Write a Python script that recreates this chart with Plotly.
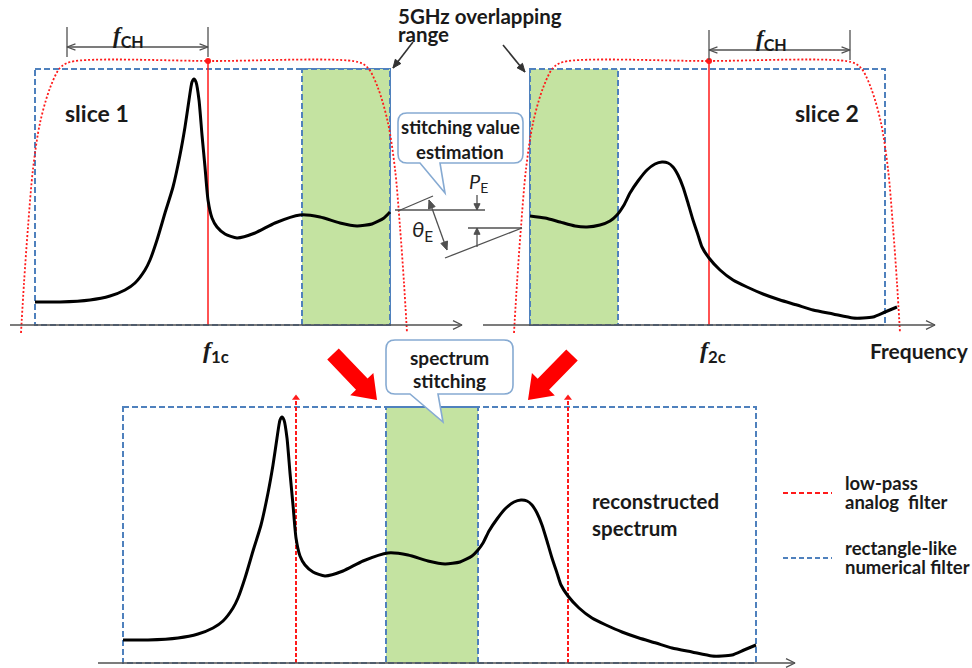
import math
import plotly.graph_objects as go

# ---------------------------------------------------------------- data
# Spectrum of each slice: frequency offset from the left edge of the slice's
# numerical filter, and level above the frequency axis.
slice1_freq = [0, 25, 55, 75, 90, 100, 110, 115, 122, 130, 138, 145, 150, 154, 157, 159, 161,
               164, 167, 170, 173, 177, 182, 190, 202, 220, 240, 265, 285, 305, 322, 337, 349, 355]
slice1_level = [23, 23, 25, 29, 35, 42, 55, 65, 85, 112, 138, 170, 198, 225, 243, 246, 243,
                225, 190, 158, 125, 107, 98, 91, 87, 92, 102, 110, 108, 102, 99, 101, 107, 113]

slice2_freq = [0, 15, 30, 45, 57, 70, 80, 87, 94, 100, 108, 117, 125, 132, 138, 143, 148, 153,
               158, 163, 168, 172, 179, 190, 203, 217, 233, 250, 267, 283, 303, 323, 333, 343, 355, 367]
slice2_level = [109, 107, 103, 99, 98, 100, 104, 110, 120, 132, 144, 155, 161, 163, 162, 158, 150, 138,
                122, 105, 90, 78, 67, 55, 45, 38, 31, 25, 20, 15, 11, 7, 7, 8, 13, 18]

# Low-pass analog filter response (one half, mirrored about the centre)
filter_offset = [0, 144, 154, 164, 174, 181, 186, 190, 193]
filter_level = [264, 263, 257, 237, 202, 156, 98, 42, -8]

# Rectangle-like numerical filter: passband width, height and stitching (overlap) band
numerical_width = 355
numerical_height = 256
overlap_width = 88

slice_names = ["slice 1", "slice 2"]
centre_subs = ["1c", "2c"]
legend_items = [("low-pass", "analog  filter"), ("rectangle-like", "numerical filter")]

# ---------------------------------------------------------------- layout constants
W, H = 972, 668
TOP_BASE, BOT_BASE = 325, 663
S1_LEFT, S2_LEFT = 35, 530
CH1_X, CH2_X = 208, 709            # channel centre frequencies (f1c, f2c)
AF1_C, AF2_C = 214, 707            # analog filter centres
REC_S1_LEFT, REC_S2_LEFT = 123, 389
REC_RIGHT = 756

RED = "#FF1A1A"
BLUE = "#4F81BD"
GREEN = "#C4E3A1"
GRAY = "#505050"
INK = "#1A1A1A"
CALLOUT = "#86AAD2"
FONT = "Lato"

fig = go.Figure()
shapes = []
annotations = []


def chevron(x0, y0, x1, y1, size=9, spread=0.45):
    a = math.atan2(y1 - y0, x1 - x0)
    xs = [x1 - size * math.cos(a + spread), x1, x1 - size * math.cos(a - spread)]
    ys = [y1 - size * math.sin(a + spread), y1, y1 - size * math.sin(a - spread)]
    return xs, ys


def head_tri(x0, y0, x1, y1, size=8, spread=0.4):
    a = math.atan2(y1 - y0, x1 - x0)
    xs = [x1, x1 - size * math.cos(a + spread), x1 - size * math.cos(a - spread), x1]
    ys = [y1, y1 - size * math.sin(a + spread), y1 - size * math.sin(a - spread), y1]
    return xs, ys


class Segs:
    def __init__(self):
        self.x, self.y = [], []

    def add(self, xs, ys):
        self.x += list(xs) + [None]
        self.y += list(ys) + [None]


# ---------------------------------------------------------------- filters / bands
for left, base in [(S1_LEFT, TOP_BASE), (S2_LEFT, TOP_BASE)]:
    shapes.append(dict(type="rect", x0=left, x1=left + numerical_width, y0=base - numerical_height, y1=base,
                       line=dict(color=BLUE, width=2, dash="6px,3px"), layer="below"))
# stitching bands
shapes.append(dict(type="rect", x0=S1_LEFT + numerical_width - overlap_width, x1=S1_LEFT + numerical_width,
                   y0=TOP_BASE - numerical_height, y1=TOP_BASE, fillcolor=GREEN,
                   line=dict(color=BLUE, width=2, dash="6px,3px"), layer="below"))
shapes.append(dict(type="rect", x0=S2_LEFT, x1=S2_LEFT + overlap_width,
                   y0=TOP_BASE - numerical_height, y1=TOP_BASE, fillcolor=GREEN,
                   line=dict(color=BLUE, width=2, dash="6px,3px"), layer="below"))
rec_g0 = REC_S1_LEFT + numerical_width - overlap_width - 4
rec_g1 = REC_S1_LEFT + numerical_width
shapes.append(dict(type="rect", x0=rec_g0, x1=rec_g1, y0=BOT_BASE - numerical_height, y1=BOT_BASE,
                   fillcolor=GREEN, line=dict(color=BLUE, width=2, dash="6px,3px"), layer="below"))
shapes.append(dict(type="rect", x0=REC_S1_LEFT, x1=REC_RIGHT, y0=BOT_BASE - numerical_height, y1=BOT_BASE,
                   line=dict(color=BLUE, width=2, dash="6px,3px"), layer="below"))
shapes.append(dict(type="line", x0=rec_g0, x1=rec_g1, y0=BOT_BASE - numerical_height,
                   y1=BOT_BASE - numerical_height, line=dict(color=BLUE, width=2), layer="below"))

# analog low-pass filters (dotted)
for c in (AF1_C, AF2_C):
    xs = [c - d for d in reversed(filter_offset)] + [c + d for d in filter_offset[1:]]
    ys = [TOP_BASE - v for v in reversed(filter_level)] + [TOP_BASE - v for v in filter_level[1:]]
    fig.add_trace(go.Scatter(x=xs, y=ys, mode="lines", line=dict(color=RED, width=1.8, dash="2px,2px",
                                                                 shape="spline", smoothing=0.9),
                             hoverinfo="skip"))

# channel centre lines
top_y = TOP_BASE - filter_level[0]
for cx in (CH1_X, CH2_X):
    fig.add_trace(go.Scatter(x=[cx, cx], y=[TOP_BASE, top_y], mode="lines",
                             line=dict(color=RED, width=1.5), hoverinfo="skip"))
fig.add_trace(go.Scatter(x=[CH1_X, CH2_X], y=[top_y, top_y], mode="markers",
                         marker=dict(color=RED, size=6), hoverinfo="skip"))

# channel centres in the reconstructed spectrum (dashed, arrow tip)
rec_centres = [REC_S1_LEFT + (CH1_X - S1_LEFT), REC_S2_LEFT + (CH2_X - S2_LEFT)]
for cx in rec_centres:
    fig.add_trace(go.Scatter(x=[cx, cx], y=[BOT_BASE, BOT_BASE - numerical_height - 8], mode="lines",
                             line=dict(color=RED, width=2, dash="4px,2px"), hoverinfo="skip"))
fig.add_trace(go.Scatter(x=rec_centres, y=[BOT_BASE - numerical_height - 9] * 2, mode="markers",
                         marker=dict(symbol="triangle-up", color=RED, size=7), hoverinfo="skip"))

# ---------------------------------------------------------------- spectra
s1x = [S1_LEFT + f for f in slice1_freq]
s1y = [TOP_BASE - v for v in slice1_level]
s2x = [S2_LEFT + f for f in slice2_freq]
s2y = [TOP_BASE - v for v in slice2_level]
rec_x = [REC_S1_LEFT + f for f in slice1_freq]
rec_y = [BOT_BASE - v for v in slice1_level]
stitch_edge = rec_x[-1]
for f, v in zip(slice2_freq, slice2_level):
    if REC_S2_LEFT + f > stitch_edge + 2:
        rec_x.append(REC_S2_LEFT + f)
        rec_y.append(BOT_BASE - v)
for xs, ys in [(s1x, s1y), (s2x, s2y), (rec_x, rec_y)]:
    fig.add_trace(go.Scatter(x=xs, y=ys, mode="lines",
                             line=dict(color="black", width=3, shape="spline", smoothing=0.6),
                             hoverinfo="skip"))

# ---------------------------------------------------------------- gray geometry
g = Segs()
# frequency axes
for x0, x1, yb in [(10, 462, TOP_BASE), (483, 935, TOP_BASE), (98, 795, BOT_BASE)]:
    g.add([x0, x1], [yb, yb])
    g.add(*chevron(x0, yb, x1, yb, size=10))
# channel width dimension marks
for xa, xb, yy in [(67, CH1_X, 47), (CH2_X, 850, 50)]:
    g.add([xa, xa], [yy - 20, yy + 10])
    g.add([xb, xb], [yy - 20, yy + 10])
    g.add([xa, xb], [yy, yy])
    g.add(*chevron(xb, yy, xa, yy, size=9, spread=0.35))
    g.add(*chevron(xa, yy, xb, yy, size=9, spread=0.35))
# stitching estimation geometry
g.add([395, 485], [210, 210])
g.add([398, 433], [211, 196])
g.add([468, 522], [228, 228])
g.add([445, 522], [258, 228])
g.add([429, 447], [200, 250])
g.add([477, 477], [195, 210])
g.add([477, 477], [247, 228])
fig.add_trace(go.Scatter(x=g.x, y=g.y, mode="lines", line=dict(color=GRAY, width=1.3), hoverinfo="skip"))

heads = Segs()
heads.add(*head_tri(447, 250, 429, 200, size=9))
heads.add(*head_tri(429, 200, 447, 250, size=9))
heads.add(*head_tri(477, 195, 477, 210, size=7, spread=0.45))
heads.add(*head_tri(477, 247, 477, 228, size=7, spread=0.45))
fig.add_trace(go.Scatter(x=heads.x, y=heads.y, mode="lines", fill="toself", fillcolor=GRAY,
                         line=dict(color=GRAY, width=1), hoverinfo="skip"))

# overlap pointers
p = Segs()
p.add([413, 393], [42, 68])
p.add([503, 525], [45, 72])
fig.add_trace(go.Scatter(x=p.x, y=p.y, mode="lines", line=dict(color="#333333", width=1.6), hoverinfo="skip"))
ph = Segs()
ph.add(*head_tri(413, 42, 393, 68, size=9, spread=0.4))
ph.add(*head_tri(503, 45, 525, 72, size=9, spread=0.4))
fig.add_trace(go.Scatter(x=ph.x, y=ph.y, mode="lines", fill="toself", fillcolor="#333333",
                         line=dict(color="#333333", width=1), hoverinfo="skip"))


# ---------------------------------------------------------------- red block arrows
def block_arrow(tx, ty, px, py, w=8, hw=16, hl=22):
    L = math.hypot(px - tx, py - ty)
    ux, uy = (px - tx) / L, (py - ty) / L
    nx, ny = -uy, ux
    bx, by = px - ux * hl, py - uy * hl
    pts = [(tx + nx * w, ty + ny * w), (bx + nx * w, by + ny * w), (bx + nx * hw, by + ny * hw), (px, py),
           (bx - nx * hw, by - ny * hw), (bx - nx * w, by - ny * w), (tx - nx * w, ty - ny * w), (tx + nx * w, ty + ny * w)]
    return [q[0] for q in pts], [q[1] for q in pts]


ra = Segs()
ra.add(*block_arrow(333, 354, 377, 400))
ra.add(*block_arrow(572, 355, 528, 400))
fig.add_trace(go.Scatter(x=ra.x, y=ra.y, mode="lines", fill="toself", fillcolor="#FF0000",
                         line=dict(color="#FF0000", width=0), hoverinfo="skip"))

# legend lines
for col, yy in zip([RED, BLUE], [493, 558]):
    fig.add_trace(go.Scatter(x=[783, 832], y=[yy, yy], mode="lines",
                             line=dict(color=col, width=2, dash="5px,3px"), hoverinfo="skip"))


# ---------------------------------------------------------------- callouts
def callout_path(x0, y0, x1, y1, r, tl, tr, tipx, tipy):
    return (f"M {x0 + r} {y0} L {x1 - r} {y0} Q {x1} {y0} {x1} {y0 + r} "
            f"L {x1} {y1 - r} Q {x1} {y1} {x1 - r} {y1} L {tr} {y1} L {tipx} {tipy} L {tl} {y1} "
            f"L {x0 + r} {y1} Q {x0} {y1} {x0} {y1 - r} L {x0} {y0 + r} Q {x0} {y0} {x0 + r} {y0} Z")


shapes.append(dict(type="path", path=callout_path(398, 113, 523, 163, 9, 420, 440, 445, 193),
                   fillcolor="white", line=dict(color=CALLOUT, width=1.6), layer="above"))
shapes.append(dict(type="path", path=callout_path(386, 340, 513, 394, 9, 410, 438, 443, 422),
                   fillcolor="white", line=dict(color=CALLOUT, width=1.6), layer="above"))


# ---------------------------------------------------------------- text
def text(x, y, s, size=20, anchor="center", bold=True, family=FONT, color=INK):
    annotations.append(dict(x=x, y=y, xref="x", yref="y", text=f"<b>{s}</b>" if bold else s,
                            showarrow=False, xanchor=anchor, yanchor="middle",
                            font=dict(family=family, size=size, color=color)))


text(97, 113, slice_names[0], size=23)
text(827, 113, slice_names[1], size=23)
text(396, 16, "5GHz overlapping", size=20.5, anchor="left")
text(396, 34, "range", size=20.5, anchor="left")
text(460, 127, "stitching value", size=18.5)
text(460, 152, "estimation", size=18.5)
text(449, 357, "spectrum", size=19)
text(449, 380, "stitching", size=19)
text(590, 501, "reconstructed", size=20.5, anchor="left")
text(590, 528, "spectrum", size=20.5, anchor="left")
text(919, 350, "Frequency", size=21)
for (l1, l2), yy in zip(legend_items, [483, 548]):
    text(843, yy, l1, size=18.5, anchor="left")
    text(843, yy + 19, l2, size=18.5, anchor="left")

fsym = '<span style="font-family:Liberation Serif"><b><i>f</i></b></span>'
text(128, 37, fsym + "<sub><b>CH</b></sub>", size=23, bold=False)
text(771, 40, fsym + "<sub><b>CH</b></sub>", size=23, bold=False)
text(216, 352, fsym + f"<sub><b>{centre_subs[0]}</b></sub>", size=24, bold=False)
text(713, 352, fsym + f"<sub><b>{centre_subs[1]}</b></sub>", size=24, bold=False)
text(478, 182, "<i>P</i><sub>E</sub>", size=20, bold=False, color="#222222")
text(422, 230, "<i>θ</i><sub>E</sub>", size=22, bold=False, color="#222222")

fig.update_layout(
    width=W, height=H, margin=dict(l=0, r=0, t=0, b=0),
    paper_bgcolor="white", plot_bgcolor="white", showlegend=False,
    xaxis=dict(range=[0, W], visible=False, fixedrange=True),
    yaxis=dict(range=[H, 0], visible=False, fixedrange=True),
    shapes=shapes, annotations=annotations,
)
fig.write_html("out.html")
